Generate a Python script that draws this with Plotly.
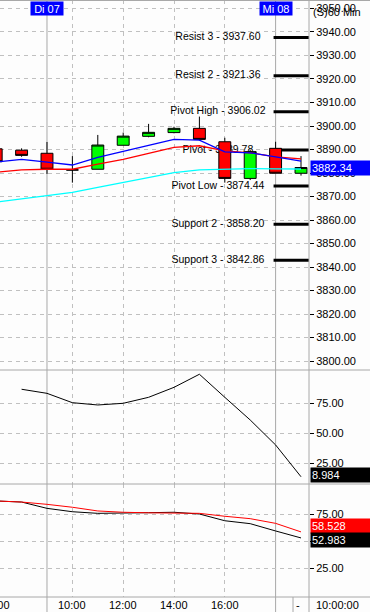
import plotly.graph_objects as go
from plotly.subplots import make_subplots

# ---------------- data ----------------
bar_index = list(range(13))
tick_index = [3, 5, 7, 9]
tick_labels = ["10:00", "12:00", "14:00", "16:00"]
left_partial_index = 0
left_partial_label = "16:00"
day_index = [2, 11]
day_labels = ["Di 07", "Mi 08"]
current_time = "10:00:00"
chart_title = "(S)60 Min"

open_ = [3890.3, 3889.7, 3888.4, 3881.3, 3881.6, 3891.8, 3895.6, 3897.2, 3899.0, 3893.3, 3877.7, 3890.5, 3879.9]
close = [3884.8, 3887.5, 3881.6, 3881.3, 3891.9, 3895.7, 3897.3, 3899.0, 3894.3, 3877.7, 3889.1, 3879.9, 3882.34]
high = [3891.0, 3890.5, 3893.2, 3887.2, 3896.2, 3897.2, 3900.9, 3899.7, 3904.0, 3895.0, 3889.8, 3893.3, 3887.2]
low = [3884.0, 3886.9, 3879.6, 3875.9, 3881.6, 3891.8, 3895.2, 3896.9, 3893.8, 3875.9, 3877.0, 3879.9, 3878.9]

ma_blue = [3884.7, 3885.8, 3884.6, 3883.4, 3886.7, 3889.4, 3891.8, 3894.3, 3894.0, 3889.0, 3888.6, 3886.9, 3885.1]
ma_red = [3880.3, 3881.3, 3881.6, 3881.6, 3883.8, 3885.8, 3888.4, 3890.9, 3891.6, 3889.4, 3888.6, 3886.9, 3886.0]
ma_cyan = [3867.6, 3868.9, 3870.2, 3871.8, 3873.9, 3875.9, 3878.0, 3880.2, 3881.3, 3881.7, 3881.9, 3881.8, 3881.7]

pivot_names = ["Resist 3", "Resist 2", "Pivot High", "Pivot", "Pivot Low", "Support 2", "Support 3"]
pivot_values = [3937.60, 3921.36, 3906.02, 3889.78, 3874.44, 3858.20, 3842.86]

osc = [None, 86.7, 83.3, 75.5, 73.6, 75.0, 80.0, 88.3, 99.2, 80.0, 61.1, 40.3, 13.8]
osc_current = 8.984

stoch_red = [87.0, 86.0, 83.9, 81.2, 77.8, 76.6, 76.1, 75.6, 75.6, 72.9, 70.7, 66.4, 58.528]
stoch_black = [87.0, 86.0, 80.2, 77.1, 75.6, 75.6, 76.2, 76.6, 75.0, 68.8, 66.1, 59.4, 52.983]

main_ticks = list(range(3800, 3960, 10))
osc_ticks = [25, 50, 75]

# ---------------- layout constants ----------------
W, H = 370, 612
PW, PH = 309, 597          # plot area in px
x_range = [0.15, 12.315]
y1_range = [3796.2, 3953.6]
y2_range = [7.75, 102.75]
y3_range = [-1.36, 102.6]
FONT = "Liberation Sans, Arial, sans-serif"
GRID = "#C0C0C0"
LINE = "#A8A8A8"
label_x = 8.73
XLAB_Y = 604.5

def py(p):  # px from top -> paper y
    return (PH - p) / PH

def px(p):  # px from left -> paper x
    return p / PW

fig = make_subplots(rows=3, cols=1, shared_xaxes=True, vertical_spacing=0)

# base main panel: pivot lines + labels (under candles)
seg_start = day_index[-1] - 0.08
pvx, pvy = [], []
for v in pivot_values:
    pvx += [seg_start, x_range[1], None]
    pvy += [v, v, None]
fig.add_trace(go.Scatter(x=pvx, y=pvy, mode="lines", line=dict(color="black", width=3),
                         hoverinfo="skip"), row=1, col=1)
fig.add_trace(go.Scatter(x=[label_x] * len(pivot_values), y=pivot_values, mode="text",
                         text=[f"{n} - {v:.2f}" for n, v in zip(pivot_names, pivot_values)],
                         textposition="middle center",
                         textfont=dict(family=FONT, size=10.5, color="black"),
                         hoverinfo="skip"), row=1, col=1)

# overlay main panel: candles + moving averages
fig.add_trace(go.Candlestick(x=bar_index, open=open_, high=high, low=low, close=close,
                             increasing=dict(fillcolor="#00FF00", line=dict(color="black", width=1)),
                             decreasing=dict(fillcolor="#FF0000", line=dict(color="black", width=1)),
                             whiskerwidth=0, xaxis="x", yaxis="y4", hoverinfo="skip"))
for ys, col in [(ma_cyan, "#00FFFF"), (ma_red, "#FF0000"), (ma_blue, "#0000FF")]:
    fig.add_trace(go.Scatter(x=bar_index, y=ys, mode="lines", line=dict(color=col, width=1.3),
                             xaxis="x", yaxis="y4", hoverinfo="skip"))

# oscillator panel
fig.add_trace(go.Scatter(x=bar_index, y=osc, mode="lines", line=dict(color="black", width=1),
                         hoverinfo="skip"), row=2, col=1)
# stochastic panel
fig.add_trace(go.Scatter(x=bar_index, y=stoch_black, mode="lines", line=dict(color="black", width=1),
                         hoverinfo="skip"), row=3, col=1)
fig.add_trace(go.Scatter(x=bar_index, y=stoch_red, mode="lines", line=dict(color="#FF0000", width=1),
                         hoverinfo="skip"), row=3, col=1)

axfont = dict(family=FONT, size=11, color="black")
xcommon = dict(range=x_range, domain=[0, 1], tickvals=tick_index, ticktext=tick_labels,
               showgrid=True, gridcolor=GRID, griddash="4px,4px", gridwidth=1,
               zeroline=False, showline=False, ticks="", showticklabels=False,
               fixedrange=True)
fig.update_layout(
    xaxis=dict(xcommon, rangeslider=dict(visible=False)),
    xaxis2=dict(xcommon),
    xaxis3=dict(xcommon),
)
ycommon = dict(side="right", showgrid=True, gridcolor=GRID, griddash="4px,4px", gridwidth=1,
               zeroline=False, showline=False, ticks="outside", ticklen=4, tickcolor="black",
               tickwidth=1, tickfont=axfont, tickformat=".2f", fixedrange=True, automargin=False)
fig.update_layout(
    yaxis=dict(ycommon, range=y1_range, domain=[py(370), 1], tickvals=main_ticks),
    yaxis2=dict(ycommon, range=y2_range, domain=[py(484), py(370)], tickvals=osc_ticks),
    yaxis3=dict(ycommon, range=y3_range, domain=[0, py(484)], tickvals=osc_ticks),
    yaxis4=dict(range=y1_range, overlaying="y", anchor="x", visible=False, side="right",
                fixedrange=True),
)

shapes = []
for p in [0.5, 370, 484, PH]:
    shapes.append(dict(type="line", xref="paper", yref="paper", x0=0, x1=W / PW,
                       y0=py(p), y1=py(p), line=dict(color=LINE, width=1)))
shapes.append(dict(type="line", xref="paper", yref="paper", x0=1, x1=1, y0=py(H), y1=1,
                   line=dict(color=LINE, width=1)))
for d in day_index:
    shapes.append(dict(type="line", xref="x", yref="paper", x0=d, x1=d, y0=py(H), y1=1,
                       line=dict(color=LINE, width=1), layer="below"))
shapes.append(dict(type="line", xref="paper", yref="paper", x0=px(293), x1=px(293),
                   y0=py(H), y1=0, line=dict(color=LINE, width=1)))

ann = []
# time labels along the bottom band
for t, lab in zip(tick_index, tick_labels):
    ann.append(dict(xref="x3", yref="paper", x=t, y=py(XLAB_Y), text=lab, showarrow=False,
                    xanchor="center", yanchor="middle", font=axfont))
ann.append(dict(xref="paper", yref="paper",
                x=(left_partial_index - x_range[0]) / (x_range[1] - x_range[0]),
                y=py(XLAB_Y), text=left_partial_label, showarrow=False, xanchor="center",
                yanchor="middle", font=axfont))
for d, t in zip(day_index, day_labels):
    ann.append(dict(xref="x", yref="paper", x=d, y=py(9), text=t, showarrow=False,
                    xanchor="center", yanchor="middle", bgcolor="#0000FF", width=30, height=11,
                    borderpad=1, font=dict(family=FONT, size=11, color="white")))
ann.append(dict(xref="paper", yref="paper", x=px(311), y=py(12), text=chart_title,
                showarrow=False, xanchor="left", yanchor="middle", font=axfont))
ann.append(dict(xref="paper", yref="y", x=px(310), y=close[-1], text=f"{close[-1]:.2f}",
                showarrow=False, xanchor="left", yanchor="middle", bgcolor="#0000FF",
                width=58, height=12, borderpad=1, align="left",
                font=dict(family=FONT, size=11, color="white")))
ann.append(dict(xref="paper", yref="y2 domain", x=px(310), y=0, yshift=1, text=f"{osc_current:.3f}",
                showarrow=False, xanchor="left", yanchor="bottom", bgcolor="black",
                width=58, height=12, borderpad=1, align="left",
                font=dict(family=FONT, size=11, color="white")))
ann.append(dict(xref="paper", yref="y3", x=px(310), y=stoch_red[-1], yshift=6,
                text=f"{stoch_red[-1]:.3f}", showarrow=False, xanchor="left", yanchor="middle",
                bgcolor="#FF0000", width=58, height=12, borderpad=1, align="left",
                font=dict(family=FONT, size=11, color="white")))
ann.append(dict(xref="paper", yref="y3", x=px(310), y=stoch_black[-1], yshift=-2,
                text=f"{stoch_black[-1]:.3f}", showarrow=False, xanchor="left", yanchor="middle",
                bgcolor="black", width=58, height=12, borderpad=1, align="left",
                font=dict(family=FONT, size=11, color="white")))
ann.append(dict(xref="paper", yref="paper", x=px(298), y=py(XLAB_Y), text="-", showarrow=False,
                xanchor="center", yanchor="middle", font=axfont))
ann.append(dict(xref="paper", yref="paper", x=px(314), y=py(XLAB_Y), text=current_time,
                showarrow=False, xanchor="left", yanchor="middle", font=axfont))

fig.update_layout(
    width=W, height=H, margin=dict(l=0, r=W - PW, t=0, b=H - PH),
    paper_bgcolor="#FDFDFD", plot_bgcolor="#FDFDFD", showlegend=False,
    boxgap=0.33, shapes=shapes, annotations=ann,
    font=dict(family=FONT, size=11, color="black"),
)

fig.write_html("out.html", config={"displayModeBar": False},
               post_script="document.body.style.margin='0px';document.body.style.overflow='hidden';")
